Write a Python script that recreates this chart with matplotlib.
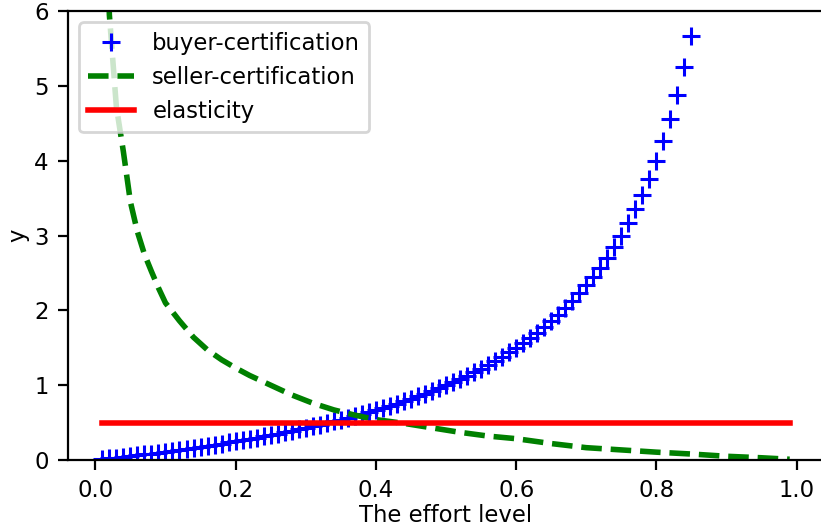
import numpy as np
import matplotlib
matplotlib.use('Agg')
import matplotlib.pyplot as plt

plt.rc('font', size=8.2)

# effort grid for the buyer curve (0.01 .. 0.85, step 0.01)
effort_buyer = np.linspace(0.01, 0.85, 85)
buyer_cert = [
    0.0101, 0.0204, 0.0309, 0.0417, 0.0526, 0.0638, 0.0753, 0.0870, 0.0989, 0.1111,
    0.1236, 0.1364, 0.1494, 0.1628, 0.1765, 0.1905, 0.2048, 0.2195, 0.2346, 0.2500,
    0.2658, 0.2821, 0.2987, 0.3158, 0.3333, 0.3514, 0.3699, 0.3889, 0.4085, 0.4286,
    0.4493, 0.4706, 0.4925, 0.5152, 0.5385, 0.5625, 0.5873, 0.6129, 0.6393, 0.6667,
    0.6949, 0.7241, 0.7544, 0.7857, 0.8182, 0.8519, 0.8868, 0.9231, 0.9608, 1.0000,
    1.0408, 1.0833, 1.1277, 1.1739, 1.2222, 1.2727, 1.3256, 1.3810, 1.4390, 1.5000,
    1.5641, 1.6316, 1.7027, 1.7778, 1.8571, 1.9412, 2.0303, 2.1250, 2.2258, 2.3333,
    2.4483, 2.5714, 2.7037, 2.8462, 3.0000, 3.1667, 3.3478, 3.5455, 3.7619, 4.0000,
    4.2632, 4.5556, 4.8824, 5.2500, 5.6667,
]

effort_seller = [0.01, 0.02, 0.03, 0.04, 0.05, 0.06, 0.07, 0.08, 0.09, 0.10,
                 0.12, 0.14, 0.16, 0.18, 0.20, 0.22, 0.25, 0.28, 0.31, 0.34,
                 0.37, 0.40, 0.44, 0.48, 0.52, 0.56, 0.60, 0.65, 0.70, 0.75,
                 0.80, 0.85, 0.90, 0.95, 0.99]
seller_cert = [9.5, 5.95, 4.72, 4.12, 3.45, 3.05, 2.75, 2.52, 2.30, 2.10,
               1.86, 1.64, 1.47, 1.34, 1.23, 1.13, 1.00, 0.87, 0.76, 0.67,
               0.60, 0.54, 0.49, 0.43, 0.37, 0.32, 0.285, 0.22, 0.165, 0.135,
               0.105, 0.08, 0.05, 0.03, 0.01]

effort_elast = [0.01, 0.99]
elasticity = [0.5, 0.5]

fig = plt.figure(figsize=(4.105, 2.635), dpi=200)
ax = fig.add_axes([0.0828, 0.1271, 0.9209, 0.852])

ax.plot(effort_buyer, buyer_cert, '+', color='blue', markersize=6.5,
        markeredgewidth=1.1, label='buyer-certification')
ax.plot(effort_seller, seller_cert, '--', color='green', linewidth=2,
        label='seller-certification')
ax.plot(effort_elast, elasticity, '-', color='red', linewidth=2, label='elasticity')

ax.set_ylim(0, 6)
ax.set_xlabel('The effort level', labelpad=0.5)
ax.set_ylabel('y', labelpad=1.5)
ax.legend(loc='upper left')

fig.savefig('out.png', dpi=200)
